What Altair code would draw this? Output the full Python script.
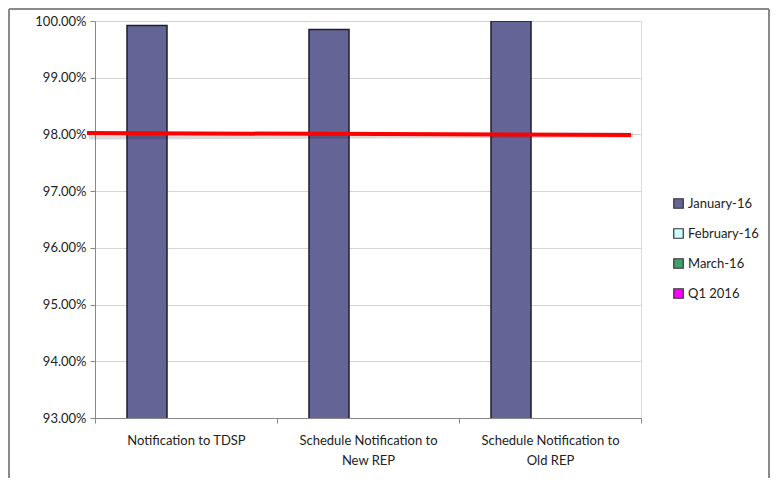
import altair as alt
import pandas as pd

categories = ["Notification to TDSP", "Schedule Notification to New REP", "Schedule Notification to Old REP"]
series = ["January-16", "February-16", "March-16", "Q1 2016"]
colors = ["#646496", "#CCFFFF", "#3FA06E", "#FF00FF"]
jan_values = [0.9992, 0.9985, 1.0]
target_start = 0.98025
target_end = 0.97990
y_ticks = [0.93, 0.94, 0.95, 0.96, 0.97, 0.98, 0.99, 1.0]

df = pd.DataFrame({"category": categories, "series": ["January-16"] * 3, "value": jan_values})
target = pd.DataFrame({"y": [target_start], "y2": [target_end]})
frame = pd.DataFrame({"k": [0]})

FONT = "Lato"
offset_domain = ["_pad_left"] + series + ["_pad_right"]

x_enc = alt.X("category:N", sort=categories, title=None,
              scale=alt.Scale(paddingInner=0, paddingOuter=0),
              axis=alt.Axis(labelAngle=0, tickBand="extent", labelFontSize=13, labelColor="#222",
                            labelFont=FONT, domainColor="#888", tickColor="#888", tickSize=5,
                            labelPadding=11, labelLineHeight=20,
                            labelExpr="datum.label == 'Notification to TDSP' ? datum.label : [slice(datum.label, 0, 24), slice(datum.label, 25)]"))
y_scale = alt.Scale(domain=[0.93, 1.0], zero=False, nice=False)

bars = alt.Chart(df).mark_bar(clip=True, width=40, stroke="#1c1c2c", strokeWidth=1.5).encode(
    x=x_enc,
    xOffset=alt.XOffset("series:N", scale=alt.Scale(domain=offset_domain, paddingOuter=0.5, paddingInner=0)),
    y=alt.Y("value:Q", scale=y_scale, title=None,
            axis=alt.Axis(values=y_ticks, format=".2%", labelFontSize=13, labelColor="#222",
                          labelFont=FONT, gridColor="#d4d4d4", domainColor="#888", tickColor="#888",
                          tickSize=5, labelPadding=4)),
    color=alt.Color("series:N", scale=alt.Scale(domain=series, range=colors), title=None,
                    legend=alt.Legend(orient="none", legendX=577, legendY=176, symbolType="square",
                                      symbolSize=90, symbolStrokeColor="#333", symbolStrokeWidth=1.2,
                                      labelFontSize=13, labelFont=FONT, labelColor="#222",
                                      rowPadding=15, labelOffset=3)),
)

shadow = alt.Chart(target).mark_rule(color="#000", opacity=0.15, strokeWidth=5, yOffset=4).encode(
    y=alt.Y("y:Q", scale=y_scale), y2="y2:Q", x=alt.value(-6), x2=alt.value(538))
line = alt.Chart(target).mark_rule(color="#FF0000", strokeWidth=4).encode(
    y=alt.Y("y:Q", scale=y_scale), y2="y2:Q", x=alt.value(-8), x2=alt.value(536))

border_top = alt.Chart(frame).mark_rule(color="#8a8a8a", strokeWidth=2).encode(
    x=alt.value(-86), x2=alt.value(674), y=alt.value(-12))
border_left = alt.Chart(frame).mark_rule(color="#8a8a8a", strokeWidth=2).encode(
    x=alt.value(-86), y=alt.value(-12), y2=alt.value(480))
border_right = alt.Chart(frame).mark_rule(color="#8a8a8a", strokeWidth=2).encode(
    x=alt.value(674), y=alt.value(-12), y2=alt.value(480))

chart = alt.layer(bars, shadow, line, border_top, border_left, border_right).properties(
    width=546, height=397, autosize=alt.AutoSizeParams(type="none"),
    padding={"left": 87, "top": 13, "right": 129, "bottom": 60},
).configure_view(stroke=None).configure(background="white")

chart.save("out.html", embed_options={"renderer": "svg", "actions": False})
